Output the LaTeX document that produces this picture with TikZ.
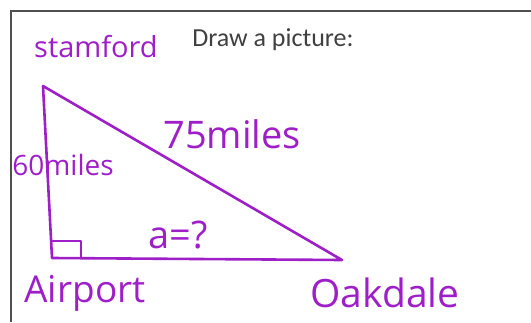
\documentclass[tikz,border=0pt]{standalone}
\usepackage{fontspec}
\setmainfont{Carlito}
\newfontfamily\handfont{Open Sans}
\usetikzlibrary{positioning}
\definecolor{ink}{HTML}{9E1FC8}
\definecolor{framegray}{HTML}{505050}

\begin{document}
\begin{tikzpicture}[
  x=1pt, y=-1pt,
  hand/.style={text=ink, inner sep=0pt, font=\handfont\fontsize{#1}{#1}\selectfont},
  leg/.style={draw=ink, line width=2.6pt, line join=round, line cap=round}
]
\useasboundingbox (0,0) rectangle (531,322);

% -------------------------
% Frame
% -------------------------
\draw[framegray, line width=1.4pt] (531,11) -- (11,11) -- (11,322);

% -------------------------
% Corners
% -------------------------
\coordinate (stamford) at (43,86);
\coordinate (airport)  at (52,258);
\coordinate (oakdale)  at (342,260);
\coordinate (sqtop)    at (52,241);
\coordinate (sqright)  at (81,258);

% -------------------------
% Triangle
% -------------------------
\draw[leg] (stamford) -- (airport) -- (oakdale) -- cycle;
\draw[leg, line width=2.2pt] (sqtop) -| (sqright);

% -------------------------
% Labels
% -------------------------
\node[text=black!75, font=\fontsize{26}{26}\selectfont] (prompt) at (273,40) {Draw a picture:};

\node[hand=29] (lstamford) at (96,47)  {stamford};
\node[hand=38] (lhyp)      at (232,134) {75miles};
\node[hand=28] (lside)     at (63,165) {60miles};
\node[hand=38] (lbase)     at (178,235) {a=?};
\node[hand=37] (lairport)  at (85,293) {Airport};
\node[hand=39] (loakdale)  at (385,293) {Oakdale};

\end{tikzpicture}
\end{document}
